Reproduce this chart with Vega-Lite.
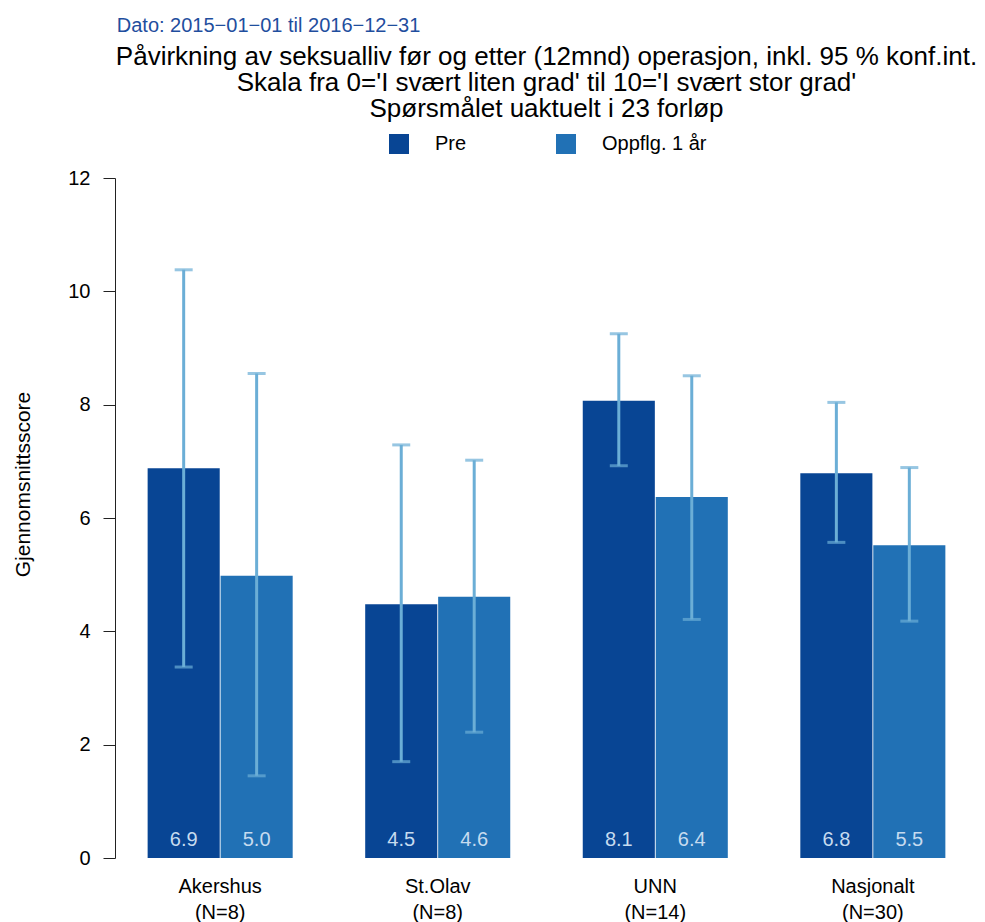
{
  "$schema": "https://vega.github.io/schema/vega-lite/v6.json",
  "padding": {"left": 12, "top": 16, "right": 5, "bottom": 0},
  "background": "white",
  "title": {
    "text": "Dato: 2015−01−01 til 2016−12−31",
    "anchor": "start",
    "frame": "bounds",
    "fontSize": 20,
    "fontWeight": "normal",
    "color": "#1f4e9e",
    "dx": 104,
    "offset": 8
  },
  "vconcat": [
    {
      "width": 863,
      "height": 680,
      "title": {
        "text": [
          "Påvirkning av seksualliv før og etter (12mnd) operasjon, inkl. 95 % konf.int.",
          "Skala fra 0='I svært liten grad' til 10='I svært stor grad'",
          "Spørsmålet uaktuelt i 23 forløp"
        ],
        "anchor": "middle",
        "frame": "group",
        "fontSize": 26,
        "lineHeight": 26,
        "fontWeight": "normal",
        "color": "#000000",
        "offset": 46
      },
      "data": {
        "values": [
          {"gruppe": "Akershus|(N=8)", "serie": "Pre", "verdi": 6.88, "lav": 3.37, "hoy": 10.38},
          {"gruppe": "Akershus|(N=8)", "serie": "Oppflg. 1 år", "verdi": 4.98, "lav": 1.45, "hoy": 8.55},
          {"gruppe": "St.Olav|(N=8)", "serie": "Pre", "verdi": 4.48, "lav": 1.70, "hoy": 7.29},
          {"gruppe": "St.Olav|(N=8)", "serie": "Oppflg. 1 år", "verdi": 4.61, "lav": 2.22, "hoy": 7.02},
          {"gruppe": "UNN|(N=14)", "serie": "Pre", "verdi": 8.07, "lav": 6.92, "hoy": 9.25},
          {"gruppe": "UNN|(N=14)", "serie": "Oppflg. 1 år", "verdi": 6.37, "lav": 4.21, "hoy": 8.51},
          {"gruppe": "Nasjonalt|(N=30)", "serie": "Pre", "verdi": 6.79, "lav": 5.57, "hoy": 8.04},
          {"gruppe": "Nasjonalt|(N=30)", "serie": "Oppflg. 1 år", "verdi": 5.52, "lav": 4.18, "hoy": 6.89}
        ]
      },
      "encoding": {
        "x": {
          "field": "gruppe",
          "type": "nominal",
          "sort": null,
          "scale": {"paddingInner": 0.3333, "paddingOuter": 0.15},
          "axis": {
            "title": null,
            "domain": false,
            "ticks": false,
            "labelAngle": 0,
            "labelFontSize": 20,
            "labelColor": "#000000",
            "labelLineHeight": 26,
            "labelPadding": 18,
            "labelExpr": "split(datum.value, '|')"
          }
        },
        "xOffset": {
          "field": "serie",
          "type": "nominal",
          "sort": ["Pre", "Oppflg. 1 år"],
          "scale": {"paddingInner": 0.012, "paddingOuter": 0}
        }
      },
      "layer": [
        {
          "mark": {"type": "bar"},
          "encoding": {
            "y": {
              "field": "verdi",
              "type": "quantitative",
              "scale": {"domain": [0, 12], "nice": false},
              "axis": {
                "title": "Gjennomsnittsscore",
                "titleFontSize": 21,
                "titleFontWeight": "normal",
                "titleColor": "#000000",
                "titleY": 306,
                "titlePadding": 34,
                "values": [0, 2, 4, 6, 8, 10, 12],
                "format": "d",
                "grid": false,
                "tickSize": 12,
                "tickColor": "#222222",
                "domainColor": "#222222",
                "labelFontSize": 20,
                "labelColor": "#000000",
                "labelPadding": 13
              }
            },
            "color": {
              "field": "serie",
              "type": "nominal",
              "sort": ["Pre", "Oppflg. 1 år"],
              "scale": {"domain": ["Pre", "Oppflg. 1 år"], "range": ["#084594", "#2171b5"]},
              "legend": {
                "title": null,
                "orient": "none",
                "legendX": 274,
                "legendY": -44,
                "direction": "horizontal",
                "padding": 0,
                "symbolType": "square",
                "symbolSize": 400,
                "symbolStrokeWidth": 0,
                "symbolOpacity": 1,
                "labelFontSize": 20,
                "labelColor": "#000000",
                "labelOffset": 26,
                "columnPadding": 89
              }
            }
          }
        },
        {
          "mark": {"type": "rule", "color": "#6baed6", "strokeWidth": 3},
          "encoding": {
            "y": {"field": "lav", "type": "quantitative"},
            "y2": {"field": "hoy"}
          }
        },
        {
          "mark": {"type": "tick", "color": "#6baed6", "thickness": 3, "size": 18},
          "encoding": {
            "y": {"field": "lav", "type": "quantitative"}
          }
        },
        {
          "mark": {"type": "tick", "color": "#6baed6", "thickness": 3, "size": 18},
          "encoding": {
            "y": {"field": "hoy", "type": "quantitative"}
          }
        },
        {
          "mark": {"type": "text", "fontSize": 20, "color": "#c6dbef", "baseline": "alphabetic", "dy": -12},
          "encoding": {
            "y": {"datum": 0, "type": "quantitative"},
            "text": {"field": "verdi", "type": "quantitative", "format": ".1f"}
          }
        }
      ]
    }
  ],
  "config": {
    "font": "Liberation Sans",
    "view": {"stroke": null},
    "axis": {"labelFont": "Liberation Sans", "titleFont": "Liberation Sans"},
    "legend": {"labelFont": "Liberation Sans"},
    "title": {"font": "Liberation Sans"}
  }
}
